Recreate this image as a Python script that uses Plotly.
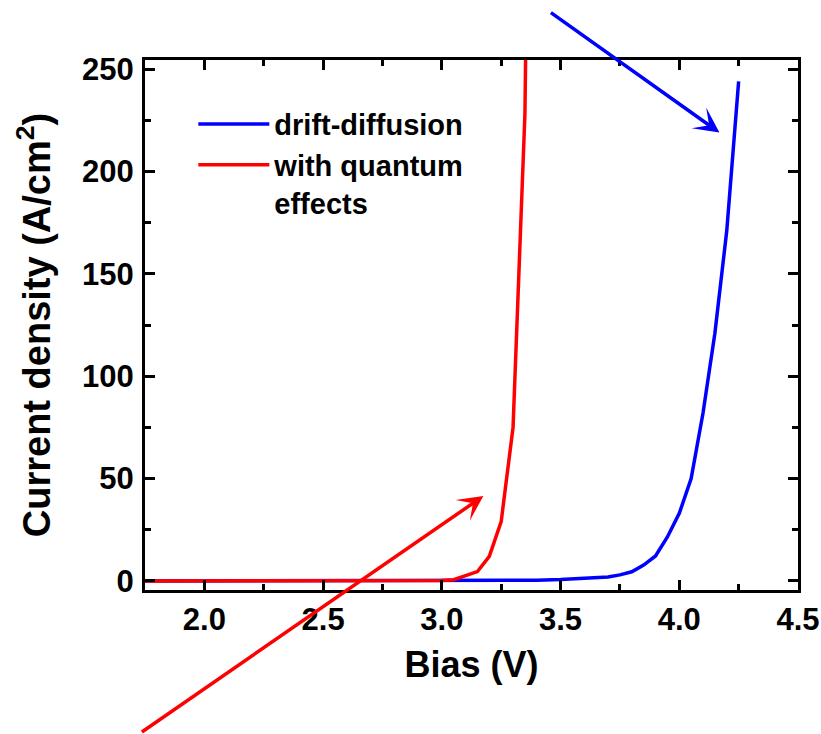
import plotly.graph_objects as go

# Data
dd_bias = [1.75, 2.0, 2.5, 3.0, 3.2, 3.3, 3.4, 3.5, 3.6, 3.7, 3.75, 3.8, 3.85, 3.9, 3.95, 4.0, 4.05, 4.1, 4.15, 4.2, 4.25]
dd_current = [0.0, 0.0, 0.0, 0.05, 0.1, 0.2, 0.4, 0.7, 1.2, 2.0, 3.0, 4.5, 7.8, 12.2, 21.5, 33.0, 50.0, 82.0, 121.0, 171.0, 244.0]

qe_bias = [1.75, 2.0, 2.5, 3.0, 3.05, 3.1, 3.15, 3.2, 3.25, 3.3, 3.35, 3.4]
qe_current = [0.0, 0.0, 0.0, 0.2, 0.6, 2.4, 4.6, 12.0, 29.0, 75.0, 228.0, 700.0]

series_names = ["drift-diffusion", "with quantum<br>effects"]
series_colors = ["#0000FF", "#FF0000"]

x_title = "Bias (V)"
y_title = "Current density (A/cm<sup>2</sup>)"
x_range = [1.75, 4.5]
y_range = [-4.4, 254.4]

# arrow tips (data coordinates) and tail offsets (pixels)
arrow_tips = [(4.169, 219.0), (3.175, 41.5)]
arrow_offsets = [(-170, -121), (-343, 237)]

FONT = "Liberation Sans, Arial, sans-serif"

fig = go.Figure()
fig.add_trace(go.Scatter(x=dd_bias, y=dd_current, mode="lines", name=series_names[0],
                         line=dict(color=series_colors[0], width=3.5)))
fig.add_trace(go.Scatter(x=qe_bias, y=qe_current, mode="lines", name=series_names[1],
                         line=dict(color=series_colors[1], width=3.5)))

for (tx, ty), (ax, ay), col in zip(arrow_tips, arrow_offsets, series_colors):
    fig.add_annotation(x=tx, y=ty, xref="x", yref="y", ax=ax, ay=ay, axref="pixel", ayref="pixel",
                       text="", showarrow=True, arrowhead=3, arrowsize=1.2, arrowwidth=3.5,
                       arrowcolor=col)

axis_common = dict(
    showline=True, linecolor="black", linewidth=3, mirror="allticks",
    ticks="inside", tickcolor="black", tickwidth=3, ticklen=10,
    showgrid=False, zeroline=False,
    tickfont=dict(family=FONT, size=31, color="black", weight="bold"),
)

fig.update_xaxes(range=x_range, dtick=0.5, tick0=0, tickformat=".1f",
                 minor=dict(dtick=0.25, ticks="inside", ticklen=6, tickwidth=3, tickcolor="black"),
                 ticklabelstandoff=0,
                 title=dict(text=x_title, standoff=16,
                            font=dict(family=FONT, size=36, color="black", weight="bold")),
                 **axis_common)
fig.update_yaxes(range=y_range, dtick=50, tick0=0,
                 minor=dict(dtick=25, ticks="inside", ticklen=6, tickwidth=3, tickcolor="black"),
                 ticklabelstandoff=2,
                 title=dict(text=y_title, standoff=20,
                            font=dict(family=FONT, size=38, color="black", weight="bold")),
                 **axis_common)

fig.update_layout(
    width=821, height=734,
    margin=dict(l=145, r=23, t=60, b=144, autoexpand=False),
    paper_bgcolor="white", plot_bgcolor="white",
    showlegend=True,
    legend=dict(x=0.074, y=0.927, xanchor="left", yanchor="top", valign="top",
                bgcolor="rgba(0,0,0,0)", borderwidth=0, itemwidth=71,
                font=dict(family=FONT, size=29, color="black", weight="bold"),
                tracegroupgap=0),
)

fig.write_html("out.html")
